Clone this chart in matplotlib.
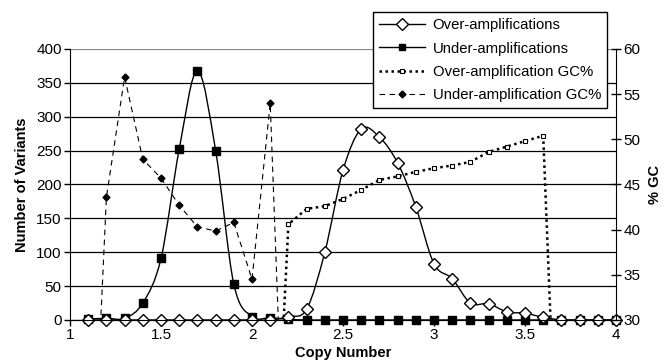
import numpy as np
import matplotlib

matplotlib.use("Agg")
import matplotlib.pyplot as plt
from matplotlib.path import Path
from matplotlib.patches import PathPatch
from matplotlib.lines import Line2D

plt.rcParams["font.family"] = ["Liberation Sans", "DejaVu Sans"]

copy_number = [1.1, 1.2, 1.3, 1.4, 1.5, 1.6, 1.7, 1.8, 1.9, 2.0,
               2.1, 2.2, 2.3, 2.4, 2.5, 2.6, 2.7, 2.8, 2.9, 3.0,
               3.1, 3.2, 3.3, 3.4, 3.5, 3.6, 3.7, 3.8, 3.9, 4.0]
over_amp = [0, 0, 0, 0, 0, 0, 0, 0, 0, 0,
            0, 5, 16, 100, 221, 282, 270, 232, 167, 83,
            61, 25, 24, 12, 10, 4, 0, 0, 0, 0]
under_amp = [1.5, 2.5, 2.5, 25, 91, 252, 368, 250, 53, 5,
             3.5, 1, 0, 0, 0, 0, 0, 0, 0, 0,
             0, 0, 0, 0, 0, 0, 0, 0, 0, 0]
over_gc = [0, 0, 0, 0, 0, 0, 0, 0, 0, 0,
           0, 40.6, 42.3, 42.6, 43.4, 44.4, 45.5, 45.9, 46.4, 46.8,
           47.1, 47.5, 48.6, 49.2, 49.8, 50.4, 0, 0, 0, 0]
under_gc = [0, 43.6, 56.9, 47.8, 45.7, 42.7, 40.3, 39.85, 40.8, 34.5,
            54.0, 0, 0, 0, 0, 0, 0, 0, 0, 0,
            0, 0, 0, 0, 0, 0, 0, 0, 0, 0]


def smooth_path(x, y):
    # Excel-style smoothed line: Catmull-Rom segments as cubic Beziers
    pts = np.column_stack([x, y]).astype(float)
    n = len(pts)
    verts = [pts[0]]
    codes = [Path.MOVETO]
    for i in range(n - 1):
        p0 = pts[max(i - 1, 0)]
        p1 = pts[i]
        p2 = pts[i + 1]
        p3 = pts[min(i + 2, n - 1)]
        c1 = p1 + (p2 - p0) / 6.0
        c2 = p2 - (p3 - p1) / 6.0
        verts += [c1, c2, p2]
        codes += [Path.CURVE4] * 3
    return Path(verts, codes)


fig = plt.figure(figsize=(6.65, 3.64), dpi=100)
ax = fig.add_axes([0.1053, 0.1209, 0.8210, 0.7445])

ax.set_xlim(1, 4)
ax.set_ylim(0, 400)
ax.set_xticks([1, 1.5, 2, 2.5, 3, 3.5, 4])
ax.set_xticklabels(["1", "1.5", "2", "2.5", "3", "3.5", "4"])
ax.set_yticks(range(0, 401, 50))
ax.grid(axis="y", color="black", lw=0.9)
ax.set_axisbelow(True)
ax.yaxis.get_gridlines()[-1].set_color("#888888")
ax.spines["top"].set_visible(False)
ax.spines["right"].set_visible(False)
ax.tick_params(direction="out", length=4, width=1, labelsize=11, pad=2)

ax.add_patch(PathPatch(smooth_path(copy_number, over_amp), fill=False,
                       lw=1.0, ec="black", zorder=3))
ax.add_patch(PathPatch(smooth_path(copy_number, under_amp), fill=False,
                       lw=1.0, ec="black", zorder=3))
ax.plot(copy_number, under_amp, ls="none", marker="s", ms=6,
        mfc="black", mec="black", zorder=4, clip_on=False)
ax.plot(copy_number, over_amp, ls="none", marker="D", ms=6,
        mfc="white", mec="black", mew=1.0, zorder=5, clip_on=False)

ax.set_xlabel("Copy Number", fontsize=10.5, fontweight="bold", labelpad=3)
ax.set_ylabel("Number of Variants", fontsize=10.5, fontweight="bold", labelpad=5)

ax2 = ax.twinx()
ax2.set_ylim(30, 60)
ax2.set_yticks(range(30, 61, 5))
ax2.spines["top"].set_visible(False)
ax2.spines["left"].set_visible(False)
ax2.tick_params(direction="inout", length=7, width=1, labelsize=11, pad=2)
ax2.set_ylabel("% GC", fontsize=10.5, fontweight="bold", labelpad=5)

ax2.plot(copy_number, over_gc, ls=(0, (1, 1.4)), lw=1.8, color="black",
         marker="s", ms=3.5, mfc="white", mec="black", mew=0.8)
ax2.plot(copy_number, under_gc, ls=(0, (5, 4)), lw=0.8, color="black",
         marker="D", ms=3.5, mfc="black", mec="black")

handles = [
    Line2D([], [], color="black", lw=1.0, marker="D", ms=6, mfc="white", mec="black"),
    Line2D([], [], color="black", lw=1.0, marker="s", ms=5, mfc="black", mec="black"),
    Line2D([], [], color="black", ls=(0, (1, 1.4)), lw=1.8, marker="s", ms=3.5,
           mfc="white", mec="black", mew=0.8),
    Line2D([], [], color="black", ls=(0, (5, 4)), lw=0.8, marker="D", ms=3.5,
           mfc="black", mec="black"),
]
labels = ["Over-amplifications", "Under-amplifications",
          "Over-amplification GC%", "Under-amplification GC%"]
leg = ax2.legend(handles, labels, loc="upper left", bbox_to_anchor=(0.561, 0.966),
                 bbox_transform=fig.transFigure, fontsize=10.7, frameon=True,
                 fancybox=False, edgecolor="black", framealpha=1,
                 handlelength=3.1, labelspacing=0.62, borderpad=0.4,
                 handletextpad=0.5, borderaxespad=0)
leg.get_frame().set_linewidth(1.0)
leg.set_zorder(10)

fig.savefig("out.png", dpi=100)
